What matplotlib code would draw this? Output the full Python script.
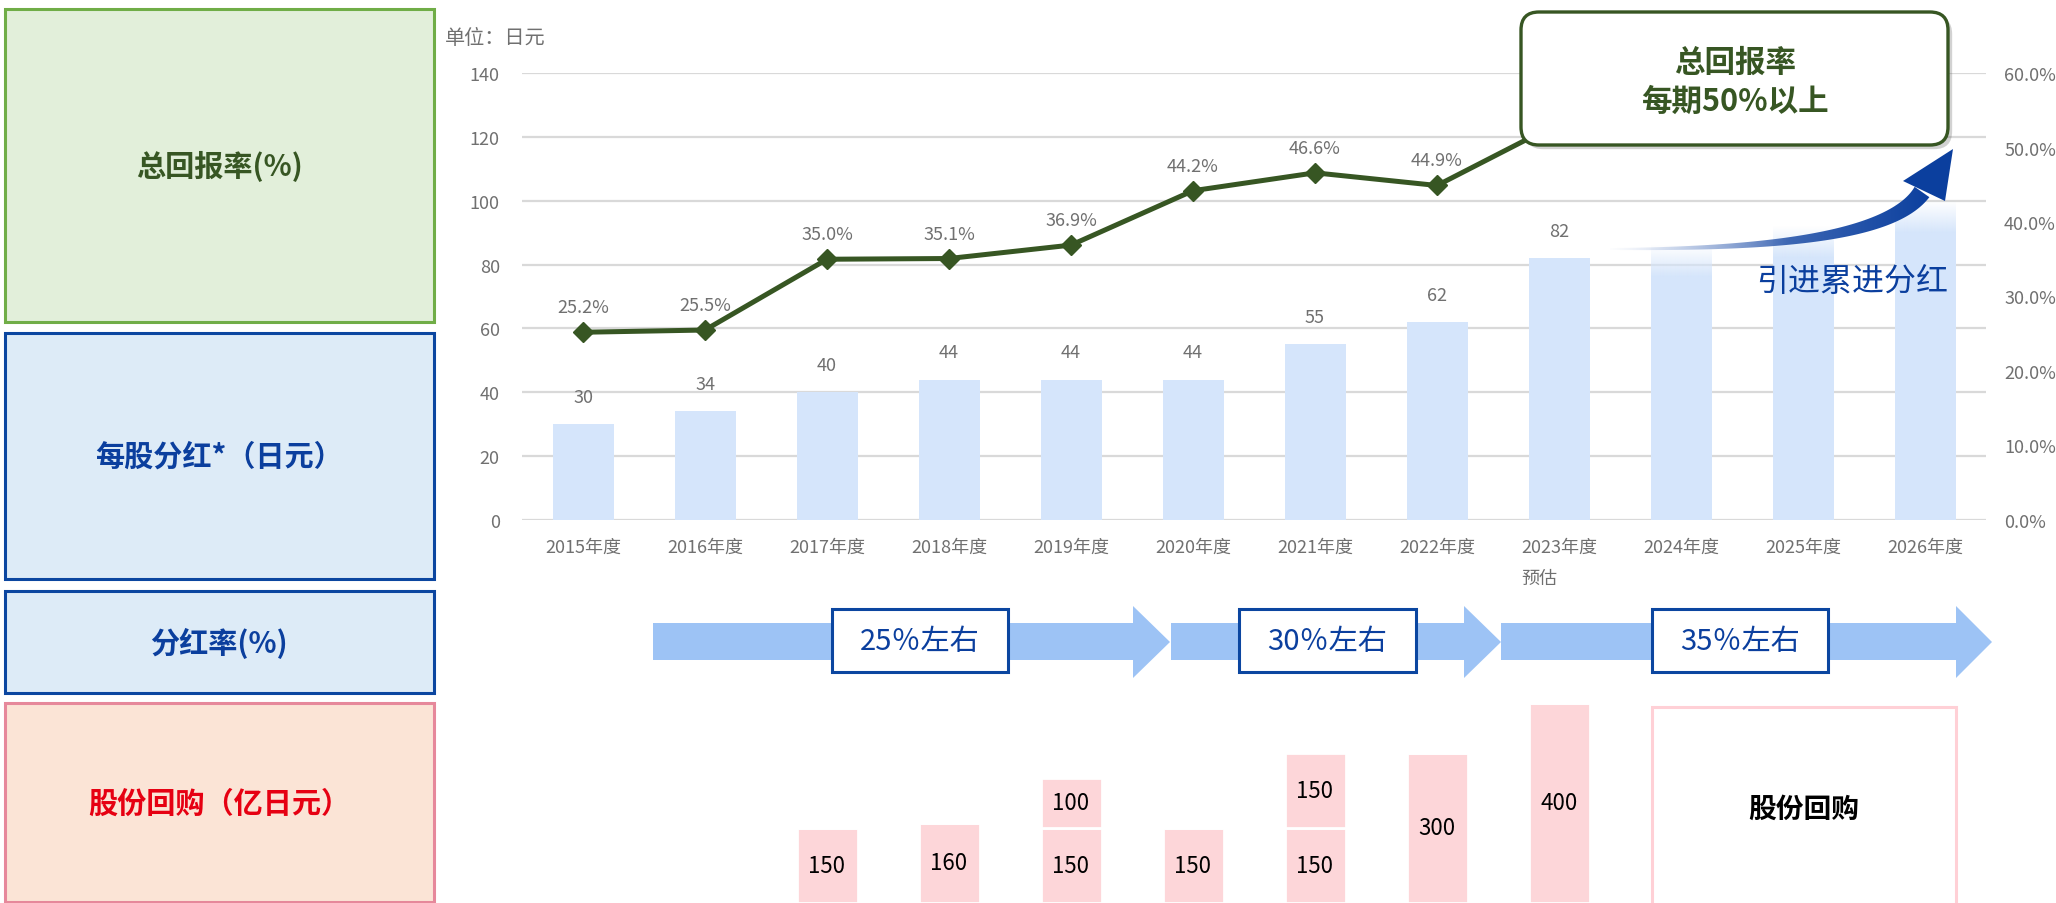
import numpy as np
import matplotlib
matplotlib.use('Agg')
import matplotlib.pyplot as plt
from matplotlib.patches import Rectangle, FancyBboxPatch, Polygon
from matplotlib.colors import to_rgb
import matplotlib.patheffects as pe

plt.rcParams['font.family'] = ['Noto Sans CJK SC', 'DejaVu Sans']

# data
years = ['2015年度', '2016年度', '2017年度', '2018年度', '2019年度', '2020年度',
         '2021年度', '2022年度', '2023年度\n预估', '2024年度', '2025年度', '2026年度']
dps = [30, 34, 40, 44, 44, 44, 55, 62, 82]
dps_outlook = [86, 92, 100]          # faded bars, no labels
total_return = [25.2, 25.5, 35.0, 35.1, 36.9, 44.2, 46.6, 44.9, 53.3]
buyback_first = [0, 0, 150, 160, 150, 150, 150, 300, 400]
buyback_second = [0, 0, 0, 0, 100, 0, 150, 0, 0]
payout_labels = ['25％左右', '30％左右', '35％左右']
row_titles = ['总回报率(%)', '每股分红*（日元）', '分红率(%)', '股份回购（亿日元）']

W, H = 2056, 904
fig = plt.figure(figsize=(W / 100, H / 100), dpi=100)


def fx(px):
    return px / W


def fy(py):
    return 1 - py / H


gray = '#707070'
bar_color = '#D5E5FB'
green = '#375623'
blue = '#0B3F9E'

# main chart
ax = fig.add_axes([fx(522), fy(521), fx(1986) - fx(522), fy(74) - fy(521)])
x = np.arange(len(years))
ax.bar(x[:len(dps)], dps, width=0.5, color=bar_color, zorder=2)
for i, v in enumerate(dps):
    ax.annotate(str(v), (x[i], v), xytext=(0, 19.5), textcoords='offset points',
                ha='center', va='center', fontsize=13, color=gray)

fade = 10
rgb = to_rgb(bar_color)
for j, v in enumerate(dps_outlook):
    xi = x[len(dps) + j]
    ax.bar(xi, v - fade, width=0.5, color=bar_color, zorder=2)
    grad = np.ones((64, 1, 4))
    grad[..., :3] = rgb
    grad[:, 0, 3] = np.linspace(1, 0, 64)
    ax.imshow(grad, extent=(xi - 0.25, xi + 0.25, v - fade, v), origin='lower',
              aspect='auto', zorder=2, interpolation='bilinear')

ax.set_xlim(-0.5, len(years) - 0.5)
ax.set_ylim(0, 140)
ax.set_yticks(range(0, 141, 20))
ax.set_xticks(x)
ax.set_xticklabels(years)
lab23 = ax.get_xticklabels()[8]
lab23.set_multialignment('left')
lab23.set_linespacing(1.95)
ax.grid(axis='y', color='#D9D9D9', lw=1.6, zorder=0)
ax.set_axisbelow(True)
for s in ax.spines.values():
    s.set_visible(False)
ax.tick_params(axis='y', length=0, pad=16, labelsize=13, labelcolor=gray)
ax.tick_params(axis='x', length=0, pad=13, labelsize=13, labelcolor=gray)

ax2 = ax.twinx()
ax2.plot(x[:len(total_return)], total_return, color=green, lw=3.6, marker='D',
         ms=10, zorder=3)
for i, v in enumerate(total_return[:-1]):
    ax2.annotate('%.1f%%' % v, (x[i], v), xytext=(0, 18), textcoords='offset points',
                 ha='center', va='center', fontsize=13, color=gray)
ax2.set_ylim(0, 60)
ax2.set_yticks(range(0, 61, 10))
ax2.set_yticklabels(['%.1f%%' % t for t in range(0, 61, 10)])
ax2.tick_params(axis='y', length=0, pad=13, labelsize=13, labelcolor=gray)
for s in ax2.spines.values():
    s.set_visible(False)

fig.text(fx(445), fy(38), '单位：日元', fontsize=14.5, color=gray, ha='left', va='center')

# buyback row
axb = fig.add_axes([fx(522), 0, fx(1986) - fx(522), 200 / H])
nb = len(buyback_first)
axb.bar(x[:nb], buyback_first, width=0.5, color='#FDD6D9', edgecolor='white', lw=2)
axb.bar(x[:nb], buyback_second, bottom=buyback_first, width=0.5, color='#FDD6D9',
        edgecolor='white', lw=2)
for i in range(nb):
    if buyback_first[i]:
        axb.text(x[i], buyback_first[i] / 2, str(buyback_first[i]), ha='center',
                 va='center', fontsize=16, color='black')
    if buyback_second[i]:
        axb.text(x[i], buyback_first[i] + buyback_second[i] / 2, str(buyback_second[i]),
                 ha='center', va='center', fontsize=16, color='black')
axb.set_xlim(-0.5, len(years) - 0.5)
axb.set_ylim(0, 400)
axb.axis('off')

# overlay in pixel coordinates
ov = fig.add_axes([0, 0, 1, 1])
ov.axis('off')
ov.patch.set_alpha(0)

rows = [(10, 323, '#70AD47', '#E2EFDA', green),
        (334, 580, '#0B46A0', '#DDEBF7', blue),
        (592, 694, '#0B46A0', '#DDEBF7', blue),
        (704, 903, '#E6889B', '#FBE4D6', '#E60012')]
for (y0, y1, ec, fc, tc), title in zip(rows, row_titles):
    ov.add_patch(Rectangle((5, y0), 429, y1 - y0, facecolor=fc, edgecolor=ec, lw=2.2))
    ov.text(219, (y0 + y1) / 2, title, ha='center', va='center', fontsize=21,
            color=tc, fontweight='bold')

# callout box
box = FancyBboxPatch((1521, 13), 427, 133, boxstyle='round,pad=0,rounding_size=18',
                     facecolor='white', edgecolor=green, lw=2.4,
                     path_effects=[pe.withSimplePatchShadow(offset=(3, -3), alpha=0.25)])
ov.add_patch(box)
ov.text(1735, 63, '总回报率', ha='center', va='center', fontsize=22, color=green,
        fontweight='bold')
ov.text(1735, 102, '每期50%以上', ha='center', va='center', fontsize=22, color=green,
        fontweight='bold')

# curved gradient arrow
P = np.array([[1610, 250], [1760, 250], [1890, 240], [1922, 193]], float)
t = np.linspace(0, 1, 120)[:, None]
pts = ((1 - t) ** 3 * P[0] + 3 * (1 - t) ** 2 * t * P[1]
       + 3 * (1 - t) * t ** 2 * P[2] + t ** 3 * P[3])
d = np.gradient(pts, axis=0)
nrm = np.stack([-d[:, 1], d[:, 0]], axis=1)
nrm /= np.linalg.norm(nrm, axis=1)[:, None]
wid = (1.0 + 8.0 * t[:, 0] ** 1.3)[:, None]
outline = np.vstack([pts + nrm * wid, (pts - nrm * wid)[::-1]])
body = Polygon(outline, closed=True, facecolor='none', edgecolor='none')
ov.add_patch(body)
n = 256
ag = np.zeros((1, n, 4))
s = np.linspace(0, 1, n)
c0, c1 = np.array(to_rgb('#9FB4DE')), np.array(to_rgb(blue))
ag[0, :, :3] = c0 + (c1 - c0) * s[:, None] ** 0.7
ag[0, :, 3] = np.clip(s * 1.8, 0, 1) ** 1.1
im = ov.imshow(ag, extent=(1605, 1935, 260, 180), aspect='auto', interpolation='bilinear')
im.set_clip_path(body)
ov.add_patch(Polygon([(1903, 182), (1953, 150), (1945, 202)], closed=True,
                     facecolor=blue, edgecolor='none'))
ov.text(1852, 282, '引进累进分红', ha='center', va='center', fontsize=23, color=blue)

# payout ratio arrows
arrows = [(653, 1133, 1170), (1171, 1464, 1501), (1501, 1956, 1992)]
for x0, xh, xt in arrows:
    ov.add_patch(Polygon([(x0, 624), (xh, 624), (xh, 607), (xt, 643), (xh, 679),
                          (xh, 661), (x0, 661)], closed=True, facecolor='#9DC3F5',
                         edgecolor='none'))
pboxes = [(832, 1008), (1239, 1416), (1652, 1828)]
for (b0, b1), lab in zip(pboxes, payout_labels):
    ov.add_patch(Rectangle((b0, 610), b1 - b0, 63, facecolor='white', edgecolor='#0B46A0',
                           lw=2.2))
    ov.text((b0 + b1) / 2, 642, lab, ha='center', va='center', fontsize=21, color=blue)

ov.add_patch(Rectangle((1652, 708), 304, 200, facecolor='white', edgecolor='#FFD0D6', lw=2.2))
ov.text(1804, 810, '股份回购', ha='center', va='center', fontsize=20, color='black',
        fontweight='bold')

ov.set_xlim(0, W)
ov.set_ylim(H, 0)

fig.savefig('out.png', dpi=100)
